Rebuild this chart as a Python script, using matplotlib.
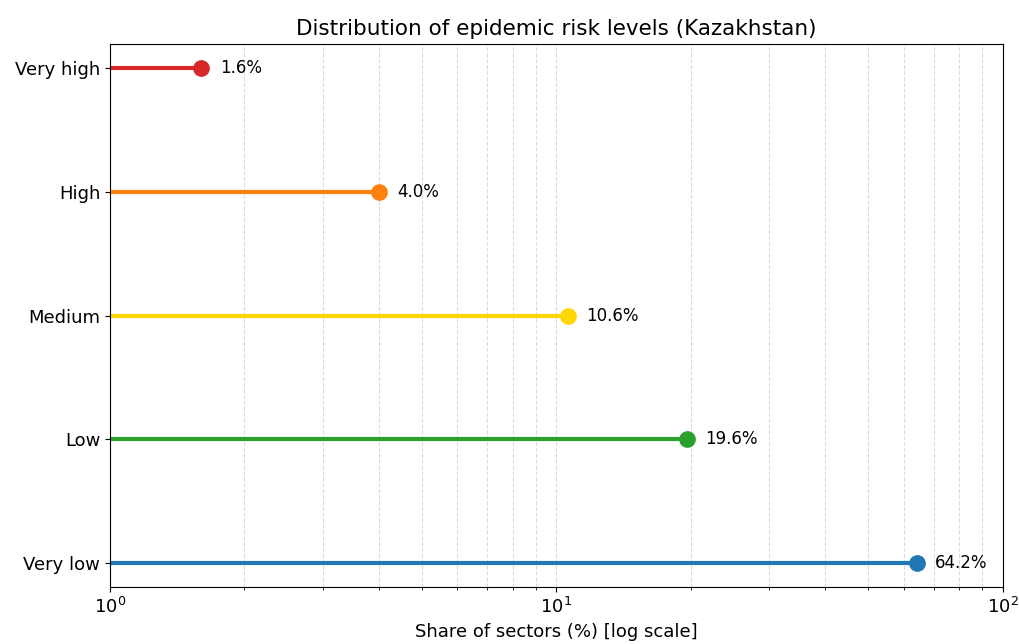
import matplotlib.pyplot as plt
import numpy as np

levels = ['Very low', 'Low', 'Medium', 'High', 'Very high']
shares = [64.2, 19.6, 10.6, 4.0, 1.6]
colors = ['#1f77b4', '#2ca02c', '#FFD700', '#ff7f0e', '#d62728']

fig, ax = plt.subplots(figsize=(10.19, 6.44), dpi=100)
y = np.arange(len(levels))

for i in range(len(levels)):
    ax.hlines(y[i], 1, shares[i], color=colors[i], linewidth=3)
    ax.plot(shares[i], y[i], 'o', color=colors[i], markersize=11)
    ax.text(shares[i] * 1.1, y[i], f'{shares[i]:.1f}%', va='center', fontsize=12)

ax.set_xscale('log')
ax.set_xlim(1, 100)
ax.set_yticks(y)
ax.set_yticklabels(levels, fontsize=13)
ax.tick_params(axis='x', labelsize=13)
ax.set_xlabel('Share of sectors (%) [log scale]', fontsize=13)
ax.set_title('Distribution of epidemic risk levels (Kazakhstan)', fontsize=15.5)
ax.grid(True, axis='x', which='both', linestyle='--', alpha=0.45)

plt.subplots_adjust(left=0.108, right=0.984, top=0.932, bottom=0.088)
plt.savefig('out.png')
